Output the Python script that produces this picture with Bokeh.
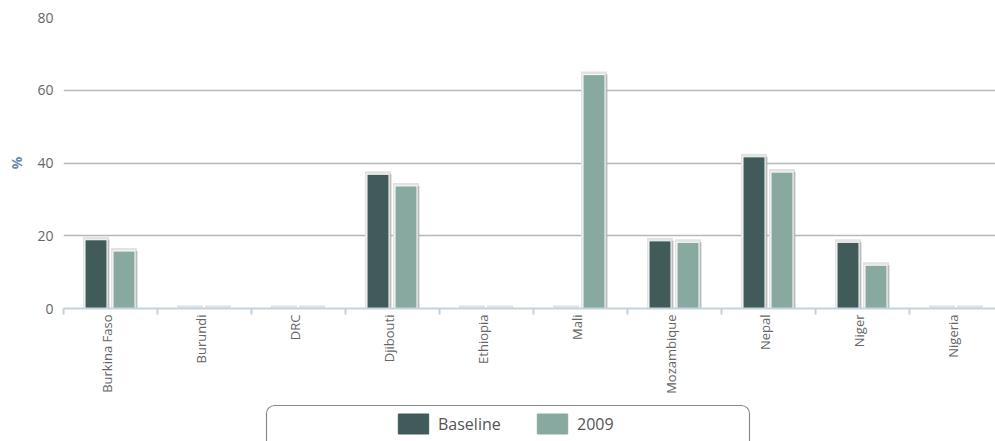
from bokeh.plotting import figure
from bokeh.models import (Range1d, FixedTicker, BoxAnnotation, Legend, LegendItem,
                          ColumnDataSource)
from bokeh.layouts import column
from bokeh.embed import file_html
from bokeh.resources import INLINE
import math

# Data: share of target reached, per country
countries = ["Burkina Faso", "Burundi", "DRC", "Djibouti", "Ethiopia",
             "Mali", "Mozambique", "Nepal", "Niger", "Nigeria"]
baseline = [18.9, 0, 0, 36.9, 0, 0, 18.6, 41.7, 18.2, 0]
year_2009 = [15.8, 0, 0, 33.7, 0, 64.3, 18.2, 37.5, 11.9, 0]
y_ticks = [0, 20, 40, 60, 80]

DARK = "#415b5a"
LIGHT = "#88a9a0"
FONT = "Open Sans"

PX_PER_CAT = 94.0          # pixel width of one category slot
PX_PER_UNIT = 291.0 / 80   # pixel height of one percent

W = 995
LEFT = 63
H_MAIN = 404
H_LEG = 37

p = figure(width=W, height=H_MAIN, output_backend="svg", toolbar_location=None,
           x_range=Range1d(0, (W - LEFT) / PX_PER_CAT), y_range=Range1d(0, 80),
           min_border_left=LEFT, min_border_right=0, min_border_top=17,
           min_border_bottom=96)
p.outline_line_color = None
p.background_fill_color = "white"
p.border_fill_color = "white"

n = len(countries)
bar_w = 22 / PX_PER_CAT
halo_w = 26 / PX_PER_CAT
off = 14 / PX_PER_CAT
shift = -0.5 / PX_PER_CAT
halo_top = 3 / PX_PER_UNIT
shadow_dx = 2.5 / PX_PER_CAT

for vals, col, sign in ((baseline, DARK, -1), (year_2009, LIGHT, 1)):
    xs = [i + 0.5 + sign * off + shift for i in range(n)]
    src = ColumnDataSource(dict(
        x=xs,
        xs=[x + shadow_dx for x in xs],
        top=vals,
        halo=[v + halo_top for v in vals],
    ))
    # light halo around each bar
    p.vbar(x="x", top="halo", bottom=0, width=halo_w, source=src,
           fill_color="#e2e2e2", line_color=None)
    # soft drop shadow on the right
    p.vbar(x="xs", top="top", bottom=0, width=bar_w, source=src,
           fill_color="#9a9a9a", fill_alpha=0.55, line_color=None)
    # the bar itself
    p.vbar(x="x", top="top", bottom=0, width=bar_w, source=src,
           fill_color=col, line_color="white", line_width=1)

# y axis: labels only, horizontal grid lines
p.yaxis.ticker = FixedTicker(ticks=y_ticks)
p.yaxis.axis_line_color = None
p.yaxis.major_tick_line_color = None
p.yaxis.minor_tick_line_color = None
p.yaxis.major_tick_out = 0
p.yaxis.major_tick_in = 0
p.yaxis.major_label_text_font = FONT
p.yaxis.major_label_text_font_size = "14px"
p.yaxis.major_label_text_color = "#666666"
p.yaxis.major_label_standoff = 10
p.yaxis.axis_label = "%"
p.yaxis.axis_label_text_font = FONT
p.yaxis.axis_label_text_font_size = "14px"
p.yaxis.axis_label_text_font_style = "bold"
p.yaxis.axis_label_text_color = "#6d89a8"
p.yaxis.axis_label_standoff = 8
p.ygrid.ticker = FixedTicker(ticks=y_ticks[1:])
p.ygrid.grid_line_color = "#b8b8b8"
p.ygrid.grid_line_width = 1.5
p.xgrid.grid_line_color = None

# x axis: country names at slot centres, small ticks at slot borders
centers = [i + 0.5 - 4 / PX_PER_CAT for i in range(n)]
p.xaxis.ticker = FixedTicker(ticks=centers, minor_ticks=list(range(n + 1)))
p.xaxis.major_label_overrides = {c: name for c, name in zip(centers, countries)}
p.xaxis.major_label_orientation = math.pi / 2
p.xaxis.major_label_text_font = FONT
p.xaxis.major_label_text_font_size = "13px"
p.xaxis.major_label_text_color = "#666666"
p.xaxis.major_label_standoff = 0
p.xaxis.axis_line_color = "#c4d3e2"
p.xaxis.axis_line_width = 2
p.xaxis.major_tick_line_color = None
p.xaxis.major_tick_out = 0
p.xaxis.major_tick_in = 0
p.xaxis.minor_tick_line_color = "#c4d3e2"
p.xaxis.minor_tick_line_width = 2
p.xaxis.minor_tick_out = 6
p.xaxis.minor_tick_in = 0

# Legend strip underneath the chart; x runs in page pixels from the frame edge
q = figure(width=W, height=H_LEG, output_backend="svg", toolbar_location=None,
           x_range=Range1d(LEFT, W), y_range=Range1d(0, H_LEG),
           x_axis_type=None, y_axis_type=None,
           min_border_left=LEFT, min_border_right=0,
           min_border_top=0, min_border_bottom=0)
q.outline_line_color = None
q.xgrid.visible = False
q.ygrid.visible = False
q.background_fill_color = "white"
q.border_fill_color = "white"

q.add_layout(BoxAnnotation(left=266, right=749, top=H_LEG - 1, bottom=-20,
                           fill_alpha=0, line_color="#8a8a8a", line_alpha=1.0,
                           line_width=1.2, border_radius=8))

# swatch renderers for the legend, kept far outside the visible strip
r_base = q.vbar(x=[-1e6], top=[-1e6], bottom=-1e6 - 1, width=1,
                fill_color=DARK, line_color=DARK)
r_2009 = q.vbar(x=[-1e6], top=[-1e6], bottom=-1e6 - 1, width=1,
                fill_color=LIGHT, line_color=LIGHT)
legend = Legend(items=[LegendItem(label="Baseline", renderers=[r_base]),
                       LegendItem(label="2009", renderers=[r_2009])],
                orientation="horizontal", location=(394 - LEFT, 5),
                glyph_width=38, glyph_height=25, label_standoff=6,
                label_width=90, spacing=5, padding=0, margin=0,
                border_line_color=None, background_fill_alpha=0,
                label_text_font=FONT, label_text_font_size="16px",
                label_text_color="#555555")
q.add_layout(legend, "center")

layout = column(p, q, spacing=0)
open("out.html", "w").write(file_html(layout, INLINE))
